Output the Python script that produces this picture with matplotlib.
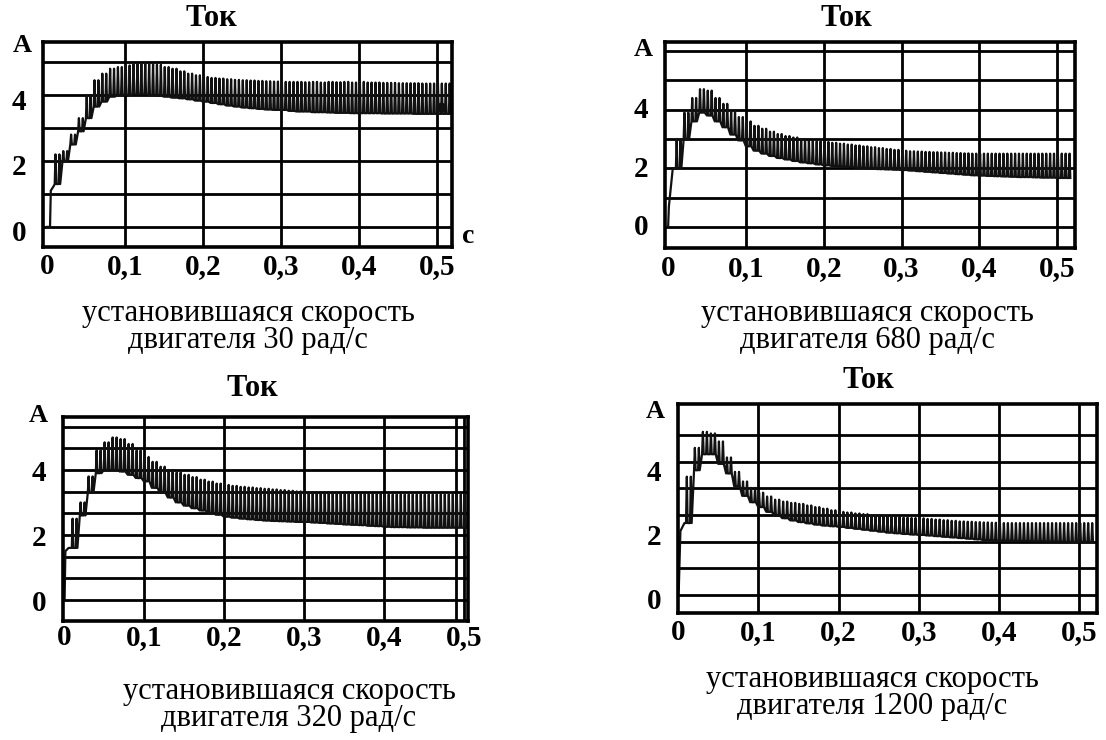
import numpy as np
import matplotlib.pyplot as plt
from matplotlib.transforms import ScaledTranslation

############ data ##################
# time axis of every panel, c
x_ticks = [0, 0.1, 0.2, 0.3, 0.4, 0.5]
x_labels = ['0', '0,1', '0,2', '0,3', '0,4', '0,5']
y_ticks = [0, 2, 4]
y_labels = ['0', '2', '4']

captions = ['установившаяся скорость\nдвигателя 30 рад/с',
            'установившаяся скорость\nдвигателя 680 рад/с',
            'установившаяся скорость\nдвигателя 320 рад/с',
            'установившаяся скорость\nдвигателя 1200 рад/с']

# envelope of the current ripple (A), read every 0.01 s from 0.01 to 0.51 s
p1_start_t = [0, 0.004, 0.005, 0.009]
p1_start_i = [0, 0, 1.1, 1.25]
p1_upper = [2.2, 2.3, 2.8, 3.3, 4.0, 4.45, 4.65, 4.8, 4.85, 4.9,
            4.95, 4.97, 4.95, 4.92, 4.85, 4.8, 4.72, 4.65, 4.6, 4.55,
            4.52, 4.5, 4.48, 4.46, 4.45, 4.44, 4.43, 4.42, 4.41, 4.4,
            4.4, 4.4, 4.39, 4.4, 4.38, 4.4, 4.39, 4.4, 4.38, 4.4,
            4.38, 4.38, 4.37, 4.37, 4.36, 4.36, 4.36, 4.35, 4.35, 4.35, 4.35]
p1_lower = [1.3, 2.0, 2.5, 2.9, 3.3, 3.65, 3.8, 3.95, 4.0, 4.0,
            4.02, 4.02, 4.0, 3.98, 3.95, 3.92, 3.9, 3.87, 3.83, 3.8,
            3.76, 3.72, 3.68, 3.65, 3.62, 3.6, 3.58, 3.56, 3.55, 3.55,
            3.52, 3.5, 3.5, 3.48, 3.48, 3.47, 3.46, 3.46, 3.45, 3.45,
            3.45, 3.45, 3.44, 3.44, 3.44, 3.44, 3.43, 3.43, 3.43, 3.43, 3.43]
p1_end_dot = (0.505, 3.65)

p2_start_t = [0, 0.001, 0.006]
p2_start_i = [0, 0.7, 2.0]
p2_upper = [3.0, 3.9, 4.4, 4.7, 4.65, 4.4, 4.2, 3.95, 3.75, 3.6,
            3.45, 3.35, 3.25, 3.17, 3.1, 3.05, 3.0, 2.95, 2.92, 2.9,
            2.87, 2.84, 2.81, 2.78, 2.75, 2.72, 2.69, 2.66, 2.63, 2.6,
            2.58, 2.57, 2.56, 2.55, 2.54, 2.53, 2.52, 2.51, 2.5, 2.5,
            2.5, 2.5, 2.5, 2.5, 2.5, 2.5, 2.5, 2.5, 2.5, 2.5, 2.5]
p2_lower = [2.0, 3.0, 3.6, 3.9, 3.8, 3.6, 3.4, 3.15, 2.95, 2.75,
            2.6, 2.5, 2.42, 2.35, 2.3, 2.25, 2.2, 2.17, 2.13, 2.1,
            2.08, 2.06, 2.04, 2.02, 2.0, 1.98, 1.97, 1.96, 1.95, 1.94,
            1.92, 1.9, 1.88, 1.86, 1.84, 1.82, 1.8, 1.78, 1.76, 1.75,
            1.74, 1.73, 1.72, 1.71, 1.7, 1.7, 1.69, 1.68, 1.68, 1.67, 1.67]

p3_start_t = [0, 0.001, 0.002, 0.006]
p3_start_i = [0, 0, 1.5, 1.6]
p3_upper = [2.5, 3.0, 3.8, 4.6, 4.85, 5.0, 4.95, 4.8, 4.6, 4.4,
            4.25, 4.1, 4.0, 3.92, 3.85, 3.78, 3.7, 3.64, 3.58, 3.54,
            3.51, 3.48, 3.46, 3.44, 3.42, 3.4, 3.38, 3.36, 3.34, 3.32,
            3.31, 3.3, 3.3, 3.29, 3.28, 3.28, 3.27, 3.26, 3.26, 3.25,
            3.25, 3.25, 3.25, 3.25, 3.25, 3.25, 3.25, 3.25, 3.25, 3.25, 3.25]
p3_lower = [1.6, 2.6, 3.3, 3.9, 4.0, 4.0, 3.95, 3.85, 3.75, 3.65,
            3.45, 3.3, 3.15, 3.0, 2.9, 2.82, 2.75, 2.68, 2.62, 2.56,
            2.53, 2.5, 2.48, 2.46, 2.44, 2.43, 2.42, 2.41, 2.4, 2.4,
            2.38, 2.37, 2.35, 2.34, 2.32, 2.31, 2.3, 2.28, 2.27, 2.25,
            2.24, 2.24, 2.23, 2.23, 2.22, 2.22, 2.22, 2.22, 2.22, 2.22, 2.22]

p4_start_t = [0, 0.001, 0.003, 0.008]
p4_start_i = [0, 0.2, 2.0, 2.25]
p4_upper = [3.7, 4.6, 5.1, 5.05, 4.8, 4.3, 3.85, 3.55, 3.35, 3.2,
            3.08, 2.98, 2.92, 2.88, 2.85, 2.8, 2.75, 2.7, 2.65, 2.6,
            2.58, 2.55, 2.53, 2.5, 2.48, 2.46, 2.44, 2.42, 2.41, 2.4,
            2.38, 2.36, 2.34, 2.32, 2.3, 2.29, 2.28, 2.27, 2.26, 2.25,
            2.25, 2.25, 2.25, 2.25, 2.25, 2.25, 2.25, 2.25, 2.25, 2.25, 2.25]
p4_lower = [2.25, 3.9, 4.4, 4.4, 4.1, 3.8, 3.4, 3.1, 2.9, 2.75,
            2.6, 2.48, 2.4, 2.33, 2.28, 2.24, 2.2, 2.17, 2.15, 2.13,
            2.1, 2.07, 2.04, 2.01, 1.98, 1.95, 1.93, 1.91, 1.89, 1.88,
            1.86, 1.84, 1.82, 1.8, 1.78, 1.76, 1.74, 1.72, 1.71, 1.7,
            1.7, 1.69, 1.69, 1.68, 1.68, 1.67, 1.67, 1.66, 1.66, 1.66, 1.66]

############ layout (pixels of the 1106x740 picture) ##################
W, H = 1106, 740
SERIF = 'Liberation Serif'

def to_fig(x, y):
    return x / W, 1 - y / H

def ripple(start_t, start_i, upper, lower):
    # two teeth per 0.01 s cell: sharp spike from the lower to the upper value
    t = list(start_t)
    i = list(start_i)
    for k in range(len(upper)):
        t0 = 0.01 * (k + 1)
        for off in (0.0, 0.005):
            t += [t0 + off, t0 + off + 0.001, t0 + off + 0.002]
            i += [lower[k], upper[k], lower[k]]
    return t, i

panels = [
    # box l,t,r,b ; xlim ; ylim ; horizontal lines ; vertical lines
    dict(box=(43, 42, 452, 247), xlim=(-0.005, 0.519), ylim=(-0.61, 5.61),
         hl=[0, 1, 2, 3, 4, 5], vl=[0.1, 0.2, 0.3, 0.4, 0.5],
         data=(p1_start_t, p1_start_i, p1_upper, p1_lower), xpad=4, ydown=4,
         title=(211, 18), A=(22, 45), cap=(248, 327)),
    dict(box=(665, 42, 1075, 248), xlim=(-0.004, 0.523), ylim=(-0.72, 6.31),
         hl=[0, 1, 2, 3, 4, 5, 6], vl=[0.1, 0.2, 0.3, 0.4, 0.5],
         data=(p2_start_t, p2_start_i, p2_upper, p2_lower), xpad=5, ydown=-2,
         title=(846, 19), A=(643, 50), cap=(867, 327)),
    dict(box=(63, 417, 468, 621), xlim=(-0.001, 0.505), ylim=(-0.65, 5.63),
         hl=[k * 2 / 3 for k in range(9)], vl=[0.1, 0.2, 0.3, 0.4, 0.49, 0.5],
         data=(p3_start_t, p3_start_i, p3_upper, p3_lower), xpad=2, ydown=1,
         title=(252, 389), A=(38, 416), cap=(289, 705)),
    dict(box=(678, 404, 1097, 613), xlim=(0.0, 0.522), ylim=(-0.56, 5.97),
         hl=[k * 5 / 6 for k in range(7)], vl=[0.1, 0.2, 0.3, 0.4, 0.5],
         data=(p4_start_t, p4_start_i, p4_upper, p4_lower), xpad=4.5, ydown=3,
         title=(868, 381), A=(655, 411), cap=(872, 693)),
]

fig = plt.figure(figsize=(W / 100, H / 100), dpi=100)

for n, p in enumerate(panels):
    l, t, r, b = p['box']
    fx, fy = to_fig(l, b)
    ax = fig.add_axes([fx, fy, (r - l) / W, (b - t) / H])
    ax.set_xlim(*p['xlim'])
    ax.set_ylim(*p['ylim'])
    for y in p['hl']:
        ax.axhline(y, color='black', lw=2.0, zorder=1)
    for x in p['vl']:
        ax.axvline(x, color='black', lw=2.0, zorder=1)
    tt, ii = ripple(*p['data'])
    ax.plot(tt, ii, color='#111111', lw=1.6, zorder=2)
    if n == 0:
        ax.plot(*p1_end_dot, 'o', color='#111111', ms=6, zorder=3)
    for s in ax.spines.values():
        s.set_linewidth(2.6)
    ax.set_xticks(x_ticks)
    ax.set_xticklabels(x_labels, fontsize=21, fontweight='bold', family=SERIF)
    ax.set_yticks(y_ticks)
    ax.set_yticklabels(y_labels, fontsize=21, fontweight='bold', family=SERIF)
    ax.tick_params(axis='x', length=0, pad=p['xpad'])
    ax.tick_params(axis='y', length=0, pad=12)
    down = ScaledTranslation(0, -p['ydown'] / 100, fig.dpi_scale_trans)
    for lab in ax.get_yticklabels():
        lab.set_transform(lab.get_transform() + down)

    x, y = to_fig(*p['title'])
    fig.text(x, y, 'Ток', ha='center', va='center', fontsize=22,
             fontweight='bold', family=SERIF)
    x, y = to_fig(*p['A'])
    fig.text(x, y, 'A', ha='center', va='center', fontsize=19,
             fontweight='bold', family=SERIF)
    x, y = to_fig(*p['cap'])
    fig.text(x, y, captions[n], ha='center', va='center', fontsize=22,
             family=SERIF, linespacing=0.9)

x, y = to_fig(468, 237)
fig.text(x, y, 'c', ha='center', va='center', fontsize=20,
         fontweight='bold', family=SERIF)

fig.savefig('out.png', dpi=100)
